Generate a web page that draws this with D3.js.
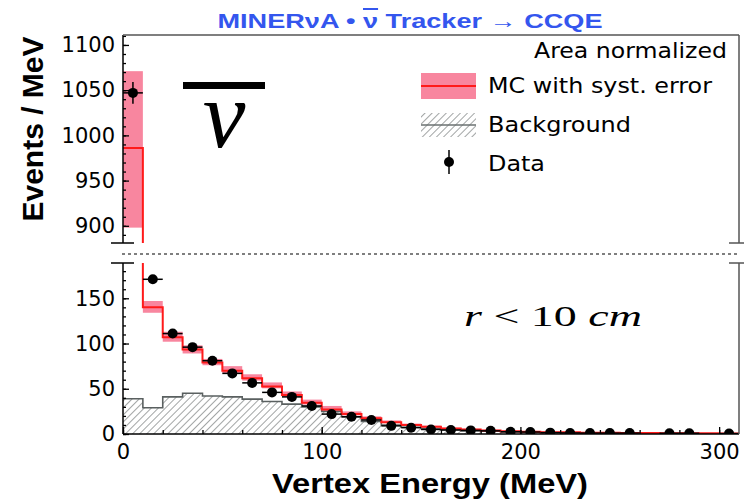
<!DOCTYPE html>
<meta charset="utf-8">
<style>
body { margin: 0; background: #fff; }
text { font-family: "DejaVu Sans", sans-serif; fill: #000; }
.axis .tick text { font-size: 21px; font-family: "DejaVu Sans", sans-serif; }
.axis line { stroke: #000; stroke-width: 1.3px; }
.axis path { display: none; }
.frame { stroke: #000; stroke-width: 1.5px; fill: none; }
.frame-grey { stroke: #555; stroke-width: 1.5px; fill: none; }
</style>
<svg width="744" height="504"></svg>
<script src="https://d3js.org/d3.v7.min.js"></script>
<script>
// bins of vertex energy (MeV), 10 MeV wide, lower edges
var binLo = [0, 10, 20, 30, 40, 50, 60, 70, 80, 90, 100, 110, 120, 130, 140, 150,
             160, 170, 180, 190, 200, 210, 220, 230, 240, 250, 260, 270, 280, 290, 300];

// MC (area normalized) and its syst. error band
var mc   = [986, 140, 107, 93.5, 79, 70, 61.5, 52.5, 43, 34.5, 27, 22, 17.5, 13, 10, 8,
            6, 5, 4, 3, 2.5, 2, 1.8, 1.5, 1.3, 1.1, 1, 0.9, 0.8, 0.7, 0.6];
var mcLo = [898, 134, 102, 89, 76, 67, 59, 50.5, 41, 32.5, 25.5, 20.5, 16, 12, 9, 7.2,
            5.4, 4.4, 3.5, 2.6, 2.1, 1.7, 1.5, 1.2, 1, 0.9, 0.8, 0.7, 0.6, 0.5, 0.5];
var mcHi = [1071, 147, 113, 98, 83, 75, 66, 57, 47, 38, 31, 25, 19.5, 15, 11.5, 9.2,
            7, 5.8, 4.7, 3.6, 3, 2.4, 2.1, 1.8, 1.6, 1.4, 1.2, 1.1, 1, 0.9, 0.8];

// background
var bg   = [39, 29, 41, 45, 42, 41, 38.5, 36, 33, 30, 25, 19, 14, 10, 7.5, 6,
            4.5, 3.5, 3, 2.2, 1.8, 1.3, 1, 0.8, 0.7, 0.6, 0.5, 0.4, 0.4, 0.3, 0.3];

// data (null = no point drawn)
var dat    = [1047, 171, 111, 96, 81, 67, 56.5, 46, 41, 31, 22, 19, 15.5, 9, 7, 5,
              4.5, 4, 3.5, 2.5, 2.2, 1.5, 1.2, 1, 1, 1, null, 0.8, 0.8, null, 0.5];
var datErr = [12, 4, 3, 3, 3, 2.5, 2.5, 2, 2, 2, 1.5, 1.5, 1.5, 1.2, 1, 1,
              1, 0.8, 0.8, 0.7, 0.7, 0.6, 0.5, 0.5, 0.5, 0.5, 0, 0.4, 0.4, 0, 0.3];

var xTicks = [0, 100, 200, 300];
var yTopTicks = [900, 950, 1000, 1050, 1100];
var yBotTicks = [0, 50, 100, 150];

var svg = d3.select("svg");

var x = d3.scaleLinear().domain([0, 310]).range([123, 739]);
var yTop = d3.scaleLinear().domain([881, 1111]).range([243, 35]);
var yBot = d3.scaleLinear().domain([0, 189]).range([434, 263]);

var pink = "#f8869f";
var red = "#ff1a1a";

var defs = svg.append("defs");
defs.append("clipPath").attr("id", "clipTop").append("rect")
    .attr("x", 123).attr("y", 35).attr("width", 616).attr("height", 208);
defs.append("clipPath").attr("id", "clipBot").append("rect")
    .attr("x", 123).attr("y", 263).attr("width", 616).attr("height", 171);
var pat = defs.append("pattern").attr("id", "hatch")
    .attr("patternUnits", "userSpaceOnUse")
    .attr("width", 5).attr("height", 5)
    .attr("patternTransform", "rotate(45)");
pat.append("line").attr("x1", 0).attr("y1", 0).attr("x2", 0).attr("y2", 5)
    .attr("stroke", "#6f7373").attr("stroke-width", 1.3);

var binW = 10;

function drawPanel(y, clipId, withBg) {
  var g = svg.append("g").attr("clip-path", "url(#" + clipId + ")");

  // syst. error band
  g.selectAll("rect.band").data(binLo).enter().append("rect")
      .attr("class", "band")
      .attr("x", function(d) { return x(d); })
      .attr("width", x(binW) - x(0))
      .attr("y", function(d, i) { return y(mcHi[i]); })
      .attr("height", function(d, i) { return y(mcLo[i]) - y(mcHi[i]); })
      .attr("fill", pink);

  // background, hatched
  if (withBg) {
    var pts = binLo.map(function(b, i) { return [b, bg[i]]; });
    pts.push([310, bg[bg.length - 1]]);
    var area = d3.area().curve(d3.curveStepAfter)
        .x(function(d) { return x(d[0]); })
        .y0(y(0))
        .y1(function(d) { return y(d[1]); });
    g.append("path").attr("d", area(pts)).attr("fill", "url(#hatch)");
    var top = d3.line().curve(d3.curveStepAfter)
        .x(function(d) { return x(d[0]); })
        .y(function(d) { return y(d[1]); });
    g.append("path").attr("d", top(pts)).attr("fill", "none")
        .attr("stroke", "#5a6060").attr("stroke-width", 1.6);
  }

  // MC line
  var mpts = binLo.map(function(b, i) { return [b, mc[i]]; });
  mpts.push([310, mc[mc.length - 1]]);
  var line = d3.line().curve(d3.curveStepAfter)
      .x(function(d) { return x(d[0]); })
      .y(function(d) { return y(d[1]); });
  g.append("path").attr("d", line(mpts)).attr("fill", "none")
      .attr("stroke", red).attr("stroke-width", 2);

  // data points
  var pd = binLo.map(function(b, i) { return {c: b + binW / 2, v: dat[i], e: datErr[i]}; })
      .filter(function(d) { return d.v !== null; });
  var pg = g.selectAll("g.pt").data(pd).enter().append("g").attr("class", "pt");
  pg.append("line")
      .attr("x1", function(d) { return x(d.c - binW / 2); })
      .attr("x2", function(d) { return x(d.c + binW / 2); })
      .attr("y1", function(d) { return y(d.v); })
      .attr("y2", function(d) { return y(d.v); })
      .attr("stroke", "#000").attr("stroke-width", 1.5);
  pg.append("line")
      .attr("x1", function(d) { return x(d.c); })
      .attr("x2", function(d) { return x(d.c); })
      .attr("y1", function(d) { return y(d.v + d.e); })
      .attr("y2", function(d) { return y(d.v - d.e); })
      .attr("stroke", "#000").attr("stroke-width", 1.5);
  pg.append("circle")
      .attr("cx", function(d) { return x(d.c); })
      .attr("cy", function(d) { return y(d.v); })
      .attr("r", 5).attr("fill", "#000");
}

drawPanel(yTop, "clipTop", false);
drawPanel(yBot, "clipBot", true);

// axes
function leftAxis(y, major, minor) {
  svg.append("g").attr("class", "axis").attr("transform", "translate(123,0)")
      .call(d3.axisLeft(y).tickValues(minor).tickSize(-3).tickFormat(""));
  svg.append("g").attr("class", "axis").attr("transform", "translate(123,0)")
      .call(d3.axisLeft(y).tickValues(major).tickSize(-6).tickPadding(8).tickFormat(d3.format("d")));
}
leftAxis(yTop, yTopTicks, d3.range(890, 1111, 10));
leftAxis(yBot, yBotTicks, d3.range(0, 189, 10));

svg.append("g").attr("class", "axis").attr("transform", "translate(0,434)")
    .call(d3.axisBottom(x).tickValues(d3.range(0, 311, 20)).tickSize(-4).tickFormat(""));
svg.append("g").attr("class", "axis").attr("transform", "translate(0,434)")
    .call(d3.axisBottom(x).tickValues(xTicks).tickSize(-7).tickPadding(10).tickFormat(d3.format("d")));

// frames
svg.append("line").attr("class", "frame").attr("x1", 123).attr("x2", 123).attr("y1", 35).attr("y2", 243);
svg.append("line").attr("class", "frame").attr("x1", 123).attr("x2", 123).attr("y1", 263).attr("y2", 434);
svg.append("line").attr("class", "frame").attr("x1", 123).attr("x2", 739).attr("y1", 434).attr("y2", 434);
svg.append("line").attr("class", "frame-grey").attr("x1", 123).attr("x2", 739).attr("y1", 35).attr("y2", 35);
svg.append("line").attr("class", "frame-grey").attr("x1", 739).attr("x2", 739).attr("y1", 35).attr("y2", 243);
svg.append("line").attr("class", "frame-grey").attr("x1", 739).attr("x2", 739).attr("y1", 263).attr("y2", 434);

// axis break marks
[243, 263].forEach(function(yy) {
  svg.append("line").attr("class", "frame").attr("x1", 111).attr("x2", 134).attr("y1", yy).attr("y2", yy);
  svg.append("line").attr("class", "frame-grey").attr("x1", 729).attr("x2", 744).attr("y1", yy).attr("y2", yy);
});
svg.append("line").attr("x1", 122).attr("x2", 740).attr("y1", 254).attr("y2", 254)
    .attr("stroke", "#000").attr("stroke-width", 1.2).attr("stroke-dasharray", "3,3");

// titles
var tt = svg.append("text").attr("x", 410).attr("y", 28).attr("text-anchor", "middle")
    .attr("textLength", 385).attr("lengthAdjust", "spacingAndGlyphs")
    .style("font-family", "'Liberation Sans', Arial, sans-serif")
    .style("font-weight", "bold").style("font-size", "20px").style("fill", "#3456ee");
tt.append("tspan").text("MINER\u03BDA \u2022 ");
tt.append("tspan").style("text-decoration", "overline").text("\u03BD");
tt.append("tspan").text(" Tracker \u2192 CCQE");

svg.append("text").attr("transform", "translate(43,129) rotate(-90)").attr("text-anchor", "middle")
    .attr("textLength", 185).attr("lengthAdjust", "spacingAndGlyphs")
    .style("font-family", "'Liberation Sans', Arial, sans-serif")
    .style("font-weight", "bold").style("font-size", "29px")
    .text("Events / MeV");

svg.append("text").attr("x", 430).attr("y", 493).attr("text-anchor", "middle")
    .attr("textLength", 316).attr("lengthAdjust", "spacingAndGlyphs")
    .style("font-family", "'Liberation Sans', Arial, sans-serif")
    .style("font-weight", "bold").style("font-size", "28px")
    .text("Vertex Energy (MeV)");

// big anti-nu label
svg.append("rect").attr("x", 183).attr("y", 82).attr("width", 82).attr("height", 7).attr("fill", "#000");
svg.append("text").attr("x", 224).attr("y", 147).attr("text-anchor", "middle")
    .style("font-family", "'Liberation Serif', 'DejaVu Serif', serif")
    .style("font-size", "96px").style("font-style", "italic")
    .text("\u03BD");

// r < 10 cm
var rt = svg.append("text").attr("x", 464).attr("y", 326)
    .attr("textLength", 178).attr("lengthAdjust", "spacingAndGlyphs")
    .style("font-family", "'Liberation Serif', 'DejaVu Serif', serif")
    .style("font-size", "30px");
rt.append("tspan").style("font-style", "italic").text("r");
rt.append("tspan").text(" < 10 ");
rt.append("tspan").style("font-style", "italic").text("cm");

// legend
var leg = svg.append("g");
leg.append("text").attr("x", 727).attr("y", 58).attr("text-anchor", "end")
    .attr("textLength", 193).attr("lengthAdjust", "spacingAndGlyphs")
    .style("font-size", "22px").text("Area normalized");

leg.append("rect").attr("x", 421).attr("y", 73).attr("width", 55).attr("height", 26).attr("fill", pink);
leg.append("line").attr("x1", 421).attr("x2", 476).attr("y1", 86).attr("y2", 86)
    .attr("stroke", red).attr("stroke-width", 2);
leg.append("text").attr("x", 488).attr("y", 93)
    .attr("textLength", 224).attr("lengthAdjust", "spacingAndGlyphs")
    .style("font-size", "22px").text("MC with syst. error");

leg.append("rect").attr("x", 421).attr("y", 113).attr("width", 55).attr("height", 24).attr("fill", "url(#hatch)");
leg.append("line").attr("x1", 421).attr("x2", 476).attr("y1", 125).attr("y2", 125)
    .attr("stroke", "#6a7070").attr("stroke-width", 1.5);
leg.append("text").attr("x", 488).attr("y", 132)
    .attr("textLength", 143).attr("lengthAdjust", "spacingAndGlyphs")
    .style("font-size", "22px").text("Background");

leg.append("line").attr("x1", 449).attr("x2", 449).attr("y1", 150).attr("y2", 174)
    .attr("stroke", "#000").attr("stroke-width", 1.5);
leg.append("circle").attr("cx", 449).attr("cy", 162).attr("r", 5).attr("fill", "#000");
leg.append("text").attr("x", 488).attr("y", 171)
    .attr("textLength", 57).attr("lengthAdjust", "spacingAndGlyphs")
    .style("font-size", "22px").text("Data");
</script>
